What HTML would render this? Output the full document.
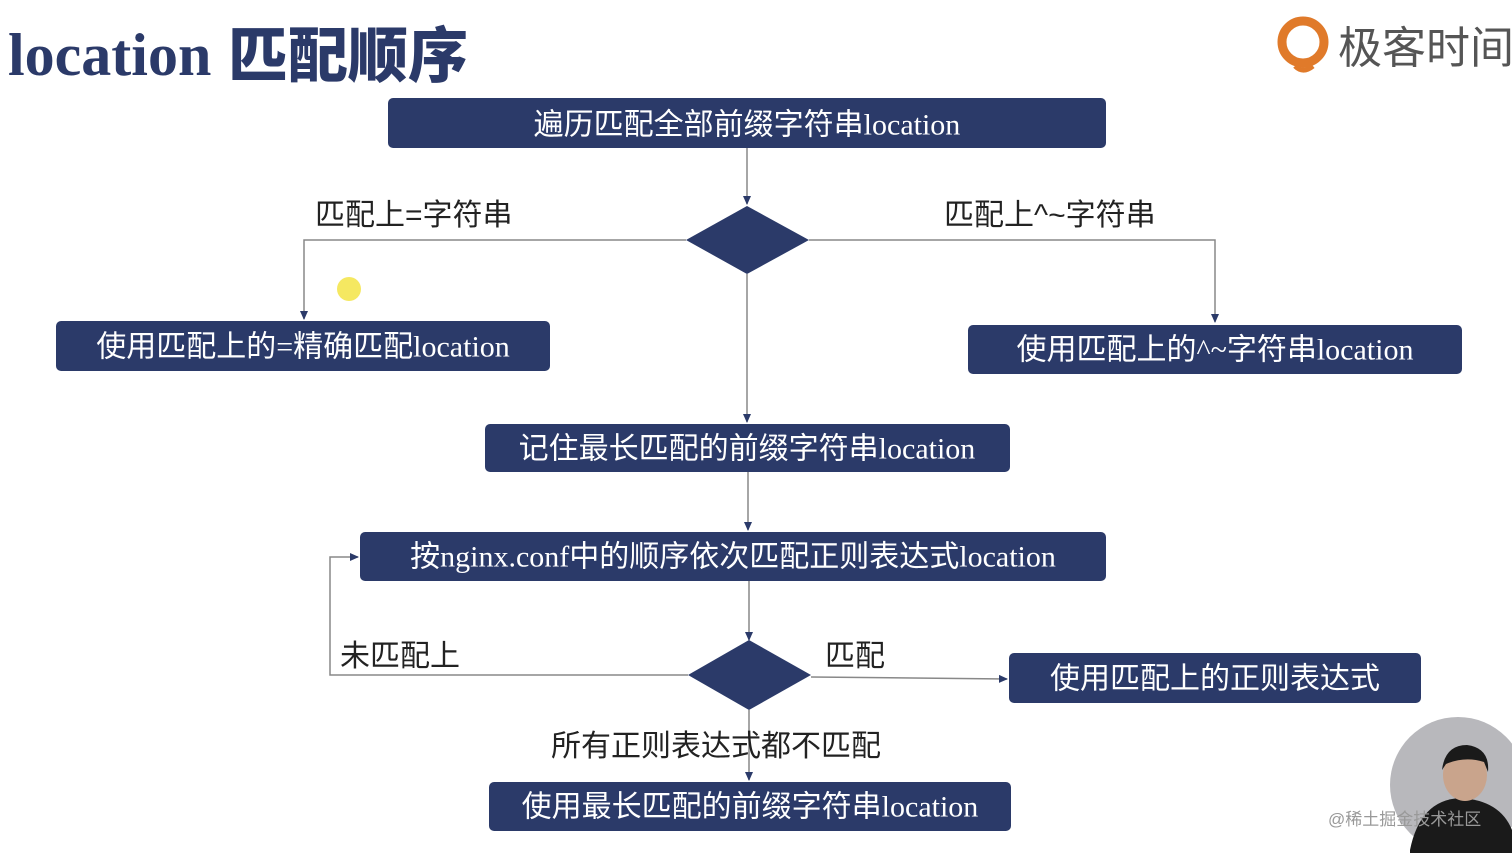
<!DOCTYPE html>
<html><head><meta charset="utf-8"><style>
html,body{margin:0;padding:0;background:#fff;width:1512px;height:853px;overflow:hidden}
svg{display:block}
.bt{font-family:"Liberation Serif","Noto Sans CJK SC",serif;font-size:30px;fill:#fff;text-anchor:middle;dominant-baseline:central}
.lb{font-family:"Liberation Sans","Noto Sans CJK SC",sans-serif;font-size:30px;fill:#222}
</style></head><body>
<svg width="1512" height="853" viewBox="0 0 1512 853">
<defs><marker id="a" markerWidth="10" markerHeight="10" refX="8" refY="5" orient="auto" markerUnits="userSpaceOnUse"><path d="M0,1 L9,5 L0,9 Z" fill="#2b3a69"/></marker></defs>
<text x="8" y="75" font-family="Liberation Serif,serif" font-weight="bold" font-size="60" fill="#2b3a69">location</text>
<text x="228" y="77" font-family="Noto Sans CJK SC,sans-serif" font-weight="900" font-size="60" fill="#2b3a69">匹配顺序</text>
<circle cx="1303" cy="42" r="21" fill="none" stroke="#e07a2a" stroke-width="9"/>
<path d="M1295,66 Q1303,74 1313,66" stroke="#e07a2a" stroke-width="5" fill="none"/>
<text x="1338" y="63" font-family="Noto Sans CJK SC,sans-serif" font-size="44" fill="#555">极客时间</text>
<g stroke="#888" stroke-width="1.5" fill="none">
<path d="M747,148 V204" marker-end="url(#a)"/>
<path d="M686,240 H304 V319" marker-end="url(#a)"/>
<path d="M809,240 H1215 V322" marker-end="url(#a)"/>
<path d="M747,274 V422" marker-end="url(#a)"/>
<path d="M748,472 V530" marker-end="url(#a)"/>
<path d="M749,581 V640" marker-end="url(#a)"/>
<path d="M688,675 H330 V557 H358" marker-end="url(#a)"/>
<path d="M811,677 L1007,679" marker-end="url(#a)"/>
<path d="M749,710 V780" marker-end="url(#a)"/>
</g>
<g fill="#2b3a69">
<rect x="388" y="98" width="718" height="50" rx="5"/>
<rect x="56" y="321" width="494" height="50" rx="5"/>
<rect x="968" y="325" width="494" height="49" rx="5"/>
<rect x="485" y="424" width="525" height="48" rx="5"/>
<rect x="360" y="532" width="746" height="49" rx="5"/>
<rect x="1009" y="653" width="412" height="50" rx="5"/>
<rect x="489" y="782" width="522" height="49" rx="5"/>
<path d="M747,206 L809,240 L747,274 L686,240 Z"/>
<path d="M749,640 L811,675 L749,710 L688,675 Z"/>
</g>
<text class="bt" x="747" y="125">遍历匹配全部前缀字符串location</text>
<text class="bt" x="303" y="347">使用匹配上的=精确匹配location</text>
<text class="bt" x="1215" y="350">使用匹配上的^~字符串location</text>
<text class="bt" x="747" y="449">记住最长匹配的前缀字符串location</text>
<text class="bt" x="733" y="557">按nginx.conf中的顺序依次匹配正则表达式location</text>
<text class="bt" x="1215" y="679">使用匹配上的正则表达式</text>
<text class="bt" x="750" y="807">使用最长匹配的前缀字符串location</text>
<text class="lb" x="315" y="225">匹配上=字符串</text>
<text class="lb" x="944" y="225">匹配上^~字符串</text>
<text class="lb" x="340" y="666">未匹配上</text>
<text class="lb" x="825" y="666">匹配</text>
<text class="lb" x="551" y="756">所有正则表达式都不匹配</text>
<circle cx="349" cy="289" r="12" fill="#f3e23a" opacity="0.8"/>
<circle cx="1458" cy="785" r="68" fill="#b8b8bc"/>
<path d="M1410,850 Q1420,800 1460,798 Q1500,800 1512,830 V853 H1410Z" fill="#1a1a1a"/>
<ellipse cx="1465" cy="775" rx="22" ry="26" fill="#c9a48c"/>
<path d="M1442,770 Q1445,745 1467,745 Q1490,748 1488,772 L1484,762 Q1465,756 1446,764Z" fill="#1a1a1a"/>
<text x="1328" y="825" font-family="Liberation Sans,Noto Sans CJK SC,sans-serif" font-size="17" fill="#999">@稀土掘金技术社区</text>
</svg>
</body></html>
